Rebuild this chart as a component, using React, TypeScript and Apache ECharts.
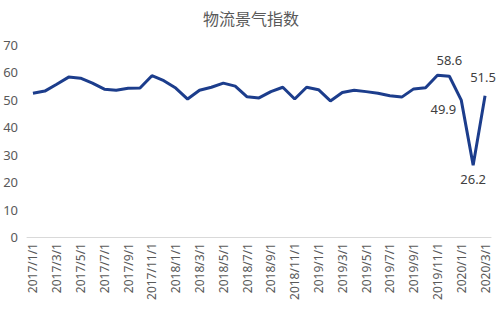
import React, { useEffect, useRef } from "react";
import * as echarts from "echarts";

const title = "物流景气指数";

const months: string[] = [
  "2017/1/1", "2017/2/1", "2017/3/1", "2017/4/1", "2017/5/1", "2017/6/1",
  "2017/7/1", "2017/8/1", "2017/9/1", "2017/10/1", "2017/11/1", "2017/12/1",
  "2018/1/1", "2018/2/1", "2018/3/1", "2018/4/1", "2018/5/1", "2018/6/1",
  "2018/7/1", "2018/8/1", "2018/9/1", "2018/10/1", "2018/11/1", "2018/12/1",
  "2019/1/1", "2019/2/1", "2019/3/1", "2019/4/1", "2019/5/1", "2019/6/1",
  "2019/7/1", "2019/8/1", "2019/9/1", "2019/10/1", "2019/11/1", "2019/12/1",
  "2020/1/1", "2020/2/1", "2020/3/1",
];

const index: number[] = [
  52.4, 53.2, 55.7, 58.3, 57.9, 56.1, 53.9, 53.5, 54.2, 54.3, 58.8, 57.0,
  54.3, 50.3, 53.5, 54.6, 56.1, 55.0, 51.1, 50.7, 53.0, 54.6, 50.3, 54.6,
  53.7, 49.6, 52.7, 53.5, 53.0, 52.4, 51.5, 51.0, 54.0, 54.4, 59.0, 58.6,
  49.9, 26.2, 51.5,
];

const yTicks = { min: 0, max: 70, interval: 10 };

// labelled points: index -> label placement
const labelled: Record<number, any> = {
  35: { position: "top", distance: 10 },
  36: { position: "left", distance: 5, offset: [0, 9] },
  37: { position: "bottom", distance: 7 },
  38: { position: "top", distance: 12, offset: [-2, 0] },
};

export default function App() {
  const ref = useRef<HTMLDivElement>(null);
  useEffect(() => {
    if (!ref.current) return;
    const chart = echarts.init(ref.current, null, { renderer: "svg" });
    const data = index.map((v, i) =>
      labelled[i]
        ? {
            value: v,
            label: {
              show: true,
              color: "#404040",
              fontSize: 13,
              fontFamily: "'Noto Sans', sans-serif",
              formatter: (p: any) => Number(p.value).toFixed(1),
              ...labelled[i],
            },
          }
        : v
    );
    chart.setOption({
      animation: false,
      backgroundColor: "#ffffff",
      title: {
        text: title,
        left: "center",
        top: 5,
        textStyle: {
          fontSize: 16,
          fontWeight: "normal",
          color: "#595959",
          fontFamily: "'Noto Sans CJK SC', sans-serif",
        },
      },
      grid: { left: 27, right: 11, top: 45, bottom: 72, containLabel: false },
      xAxis: {
        type: "category",
        data: months,
        boundaryGap: true,
        axisLine: { lineStyle: { color: "#d9d9d9" } },
        axisTick: { interval: 1, length: 5, lineStyle: { color: "#d9d9d9" } },
        axisLabel: {
          interval: 1,
          rotate: 90,
          color: "#595959",
          fontSize: 12,
          margin: 6,
          fontFamily: "'Noto Sans', sans-serif",
        },
      },
      yAxis: {
        type: "value",
        min: yTicks.min,
        max: yTicks.max,
        interval: yTicks.interval,
        splitLine: { show: false },
        axisLine: { show: false },
        axisTick: { show: false },
        axisLabel: {
          color: "#595959",
          fontSize: 13,
          margin: 9,
          fontFamily: "'Noto Sans', sans-serif",
        },
      },
      series: [
        {
          type: "line",
          data,
          symbol: "circle",
          symbolSize: 0,
          showSymbol: true,
          lineStyle: { color: "#1c3d8c", width: 3 },
          itemStyle: { color: "#1c3d8c" },
        },
      ],
    });
    return () => chart.dispose();
  }, []);
  return (
    <div
      ref={ref}
      style={{ width: 502, height: 309, position: "absolute", left: 0, top: 0 }}
    />
  );
}
